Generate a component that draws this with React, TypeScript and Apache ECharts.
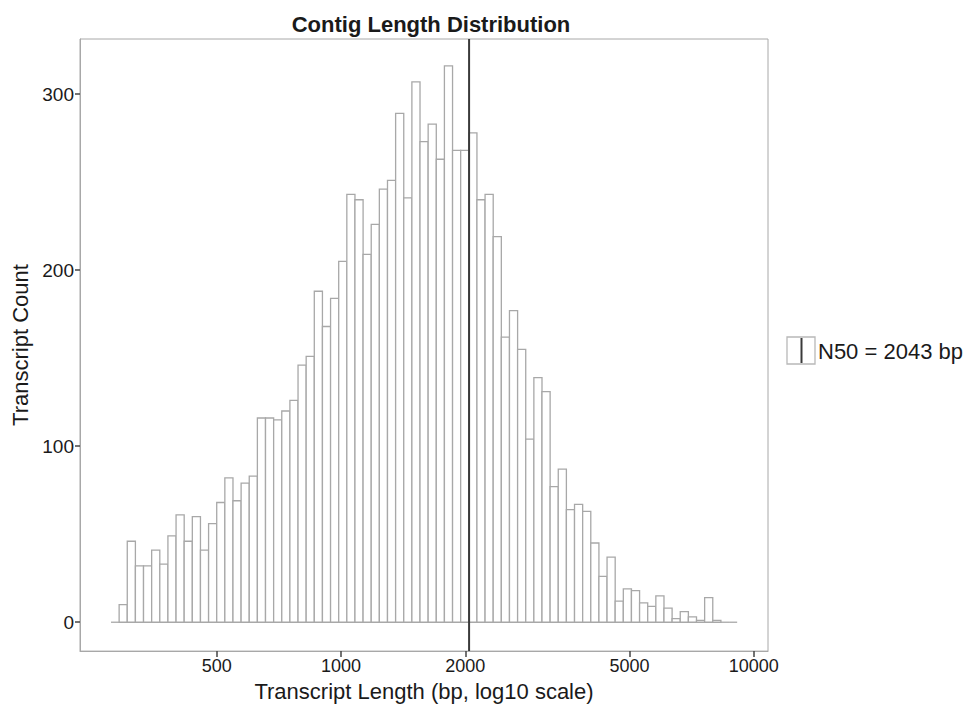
import React, { useEffect, useRef } from "react";
import * as echarts from "echarts";

// Histogram bins on a log10 scale (bin lower edge = start + i * width)
const binStartLog10 = 2.4428;
const binWidthLog10 = 0.0197;
const binCounts = [
  0, 10, 46, 32, 32, 41, 33, 49, 61, 46,
  60, 41, 56, 68, 82, 69, 79, 83, 116, 116,
  115, 120, 126, 146, 151, 188, 168, 184, 205, 243,
  240, 209, 226, 246, 251, 289, 241, 307, 273, 283,
  263, 316, 268, 268, 278, 240, 243, 219, 162, 177,
  155, 104, 139, 131, 77, 87, 64, 67, 63, 45,
  26, 37, 12, 19, 18, 11, 9, 15, 8, 2,
  6, 3, 1, 14, 1, 0, 0,
];
const n50 = 2043;
const xTickValues = [500, 1000, 2000, 5000, 10000];
const yTickValues = [0, 100, 200, 300];

const X_MIN = 2.3677;
const X_MAX = 4.0344;
const Y_MIN = -16.4;
const Y_MAX = 331.3;

const FONT = "'Liberation Sans', Arial, Helvetica, sans-serif";

export default function App() {
  const ref = useRef<HTMLDivElement>(null);
  useEffect(() => {
    if (!ref.current) return;
    const chart = echarts.init(ref.current, undefined, { renderer: "svg" });
    const histData = binCounts.map((c, i) => [
      binStartLog10 + i * binWidthLog10,
      binStartLog10 + (i + 1) * binWidthLog10,
      c,
    ]);
    const n50Log = Math.log10(n50);
    chart.setOption({
      animation: false,
      backgroundColor: "#ffffff",
      textStyle: { fontFamily: FONT },
      title: {
        text: "Contig Length Distribution",
        left: 426,
        top: 8,
        textAlign: "center",
        textStyle: { fontSize: 22, fontWeight: "bold", color: "#1a1a1a", fontFamily: FONT },
      },
      grid: {
        left: 80,
        right: 206,
        top: 39,
        bottom: 52,
        show: true,
        borderColor: "#a8a8a8",
        borderWidth: 1,
        backgroundColor: "transparent",
      },
      xAxis: {
        type: "value",
        min: X_MIN,
        max: X_MAX,
        name: "Transcript Length (bp, log10 scale)",
        nameLocation: "middle",
        nameGap: 24,
        nameTextStyle: { fontSize: 22, color: "#1a1a1a", fontFamily: FONT },
        axisLine: { show: true, onZero: false, lineStyle: { color: "#a8a8a8", width: 1 } },
        axisTick: {
          show: true,
          length: 6,
          customValues: xTickValues.map((v) => Math.log10(v)),
          lineStyle: { color: "#444", width: 1.5 },
        },
        axisLabel: {
          show: true,
          customValues: xTickValues.map((v) => Math.log10(v)),
          formatter: (v: number) => String(Math.round(Math.pow(10, v))),
          fontSize: 18,
          color: "#1a1a1a",
          margin: 6,
          fontFamily: FONT,
        },
        splitLine: { show: false },
      },
      yAxis: {
        type: "value",
        min: Y_MIN,
        max: Y_MAX,
        name: "Transcript Count",
        nameLocation: "middle",
        nameGap: 47,
        nameTextStyle: { fontSize: 22, color: "#1a1a1a", fontFamily: FONT },
        axisLine: { show: true, onZero: false, lineStyle: { color: "#a8a8a8", width: 1 } },
        axisTick: {
          show: true,
          length: 5,
          customValues: yTickValues,
          lineStyle: { color: "#444", width: 1.5 },
        },
        axisLabel: {
          show: true,
          customValues: yTickValues,
          fontSize: 19,
          color: "#1a1a1a",
          margin: 6,
          fontFamily: FONT,
        },
        splitLine: { show: false },
      },
      series: [
        {
          type: "custom",
          name: "hist",
          data: histData,
          encode: { x: [0, 1], y: 2 },
          renderItem: (params: any, api: any) => {
            const x0 = api.value(0);
            const x1 = api.value(1);
            const c = api.value(2);
            const p0 = api.coord([x0, 0]);
            const p1 = api.coord([x1, c]);
            if (c === 0) {
              return {
                type: "line",
                shape: { x1: p0[0], y1: p0[1], x2: p1[0], y2: p0[1] },
                style: { stroke: "#a8a8a8", lineWidth: 1.3 },
              };
            }
            return {
              type: "rect",
              shape: {
                x: p0[0],
                y: p1[1],
                width: p1[0] - p0[0],
                height: p0[1] - p1[1],
              },
              style: { fill: "#ffffff", stroke: "#a8a8a8", lineWidth: 1.3 },
            };
          },
          z: 2,
        },
        {
          type: "line",
          name: "N50",
          data: [
            [n50Log, Y_MIN],
            [n50Log, Y_MAX],
          ],
          symbol: "none",
          lineStyle: { color: "#3a3a3a", width: 2 },
          z: 5,
        },
      ],
      graphic: [
        {
          type: "rect",
          shape: { x: 787, y: 337, width: 28, height: 27 },
          style: { fill: "#ffffff", stroke: "#b8b8b8", lineWidth: 1.3 },
        },
        {
          type: "line",
          shape: { x1: 801.5, y1: 338, x2: 801.5, y2: 363 },
          style: { stroke: "#3a3a3a", lineWidth: 2 },
        },
        {
          type: "text",
          x: 818,
          y: 351,
          style: {
            text: "N50 = " + n50 + " bp",
            fontSize: 22,
            fill: "#1a1a1a",
            fontFamily: FONT,
            verticalAlign: "middle",
            align: "left",
          },
        },
      ],
    });
    return () => chart.dispose();
  }, []);
  return (
    <div
      ref={ref}
      style={{ position: "fixed", left: 0, top: 0, width: 974, height: 707 }}
    />
  );
}
